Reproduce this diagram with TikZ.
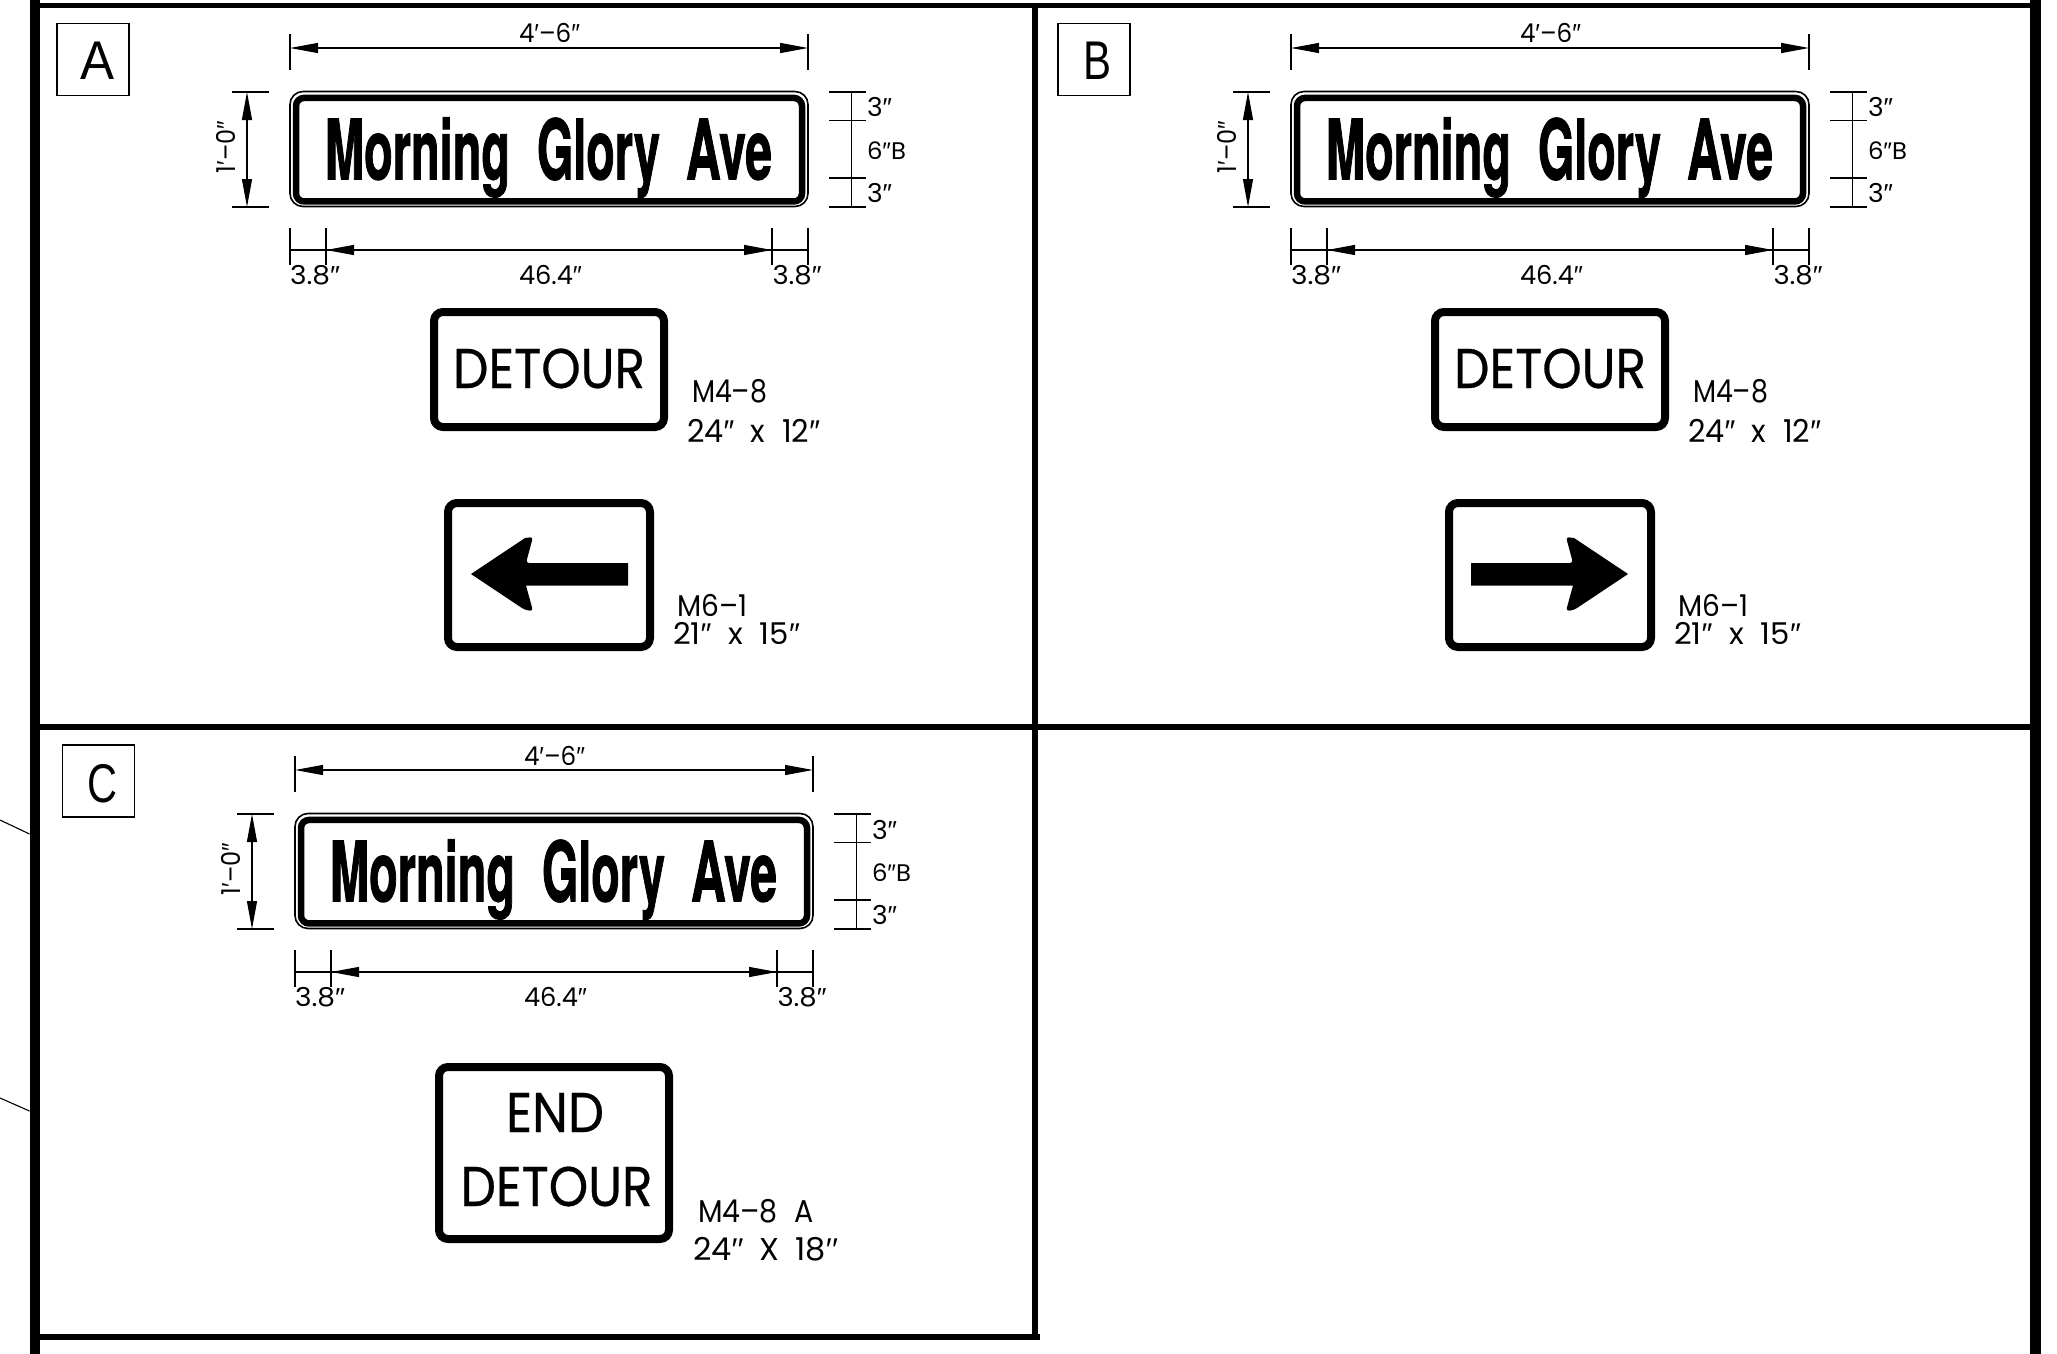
\documentclass[tikz,border=0pt]{standalone}
\usepackage{fontspec}
\usepackage{graphicx}
\usetikzlibrary{arrows.meta}
\setmainfont{Poppins}
\newfontfamily\heros[BoldFeatures={FakeBold=1.6}]{TeX Gyre Heros}
\newfontfamily\libs{Liberation Sans}
\newfontfamily\plaque[FakeBold=0.5]{Poppins}
\newcommand\dq{{\libs ″}}
\newcommand\sq{{\libs ′}}
\newcommand\fitw[3]{\resizebox{#1pt}{\height}{\fontsize{#2pt}{#2pt}\selectfont #3}}
\tikzset{
  lab/.style={inner sep=0pt,outer sep=0pt,anchor=base west},
  frameline/.style={line width=#1,line cap=butt},
  dimline/.style={line width=1.2pt},
  dimarrow/.style={line width=1.2pt,{Triangle[length=28pt,width=10pt]}-{Triangle[length=28pt,width=10pt]}},
  panelbox/.style={draw,line width=1.6pt,inner sep=0pt,minimum width=72pt,minimum height=72pt},
  signbox/.style={draw,line width=8pt,rounded corners=9pt,inner sep=0pt,fill=white},
  thinbox/.style={draw,line width=1.6pt,rounded corners=13pt,inner sep=0pt},
  thickbox/.style={draw,line width=6.5pt,rounded corners=8pt,inner sep=0pt},
}
% Street name sign with its dimensions: dx, dy, prefix
\newcommand\streetsign[3]{%
\begin{scope}[shift={(#1,#2)},name prefix=#3-]
  \node[thinbox,minimum width=518pt,minimum height=115pt] (outer) at (549,149) {};
  \node[thickbox,minimum width=506pt,minimum height=103.5pt] (inner) at (549,149.7) {};
  \node[lab] (name) at (325,179.3) {\heros\bfseries
    \fitw{185}{83}{Morning}\hspace{27pt}\fitw{123}{83}{Glory}\hspace{26pt}\fitw{86}{83}{Ave}};
  % overall width
  \coordinate (wa) at (290,34); \coordinate (wb) at (290,70);
  \coordinate (wc) at (808,34); \coordinate (wd) at (808,70);
  \coordinate (we) at (290,48); \coordinate (wf) at (808,48);
  \draw[dimline] (wa) -- (wb); \draw[dimline] (wc) -- (wd);
  \draw[dimarrow] (we) -- (wf);
  \node[lab] (wt) at (519,43) {\fitw{61}{26}{4\sq–6\dq}};
  % overall height
  \coordinate (ha) at (232,92); \coordinate (hb) at (268.5,92);
  \coordinate (hc) at (232,207); \coordinate (hd) at (268.5,207);
  \coordinate (he) at (247,92); \coordinate (hf) at (247,207);
  \draw[dimline] (ha) -- (hb); \draw[dimline] (hc) -- (hd);
  \draw[dimarrow] (he) -- (hf);
  \node[lab,rotate=90] (ht) at (235,173) {\fitw{52}{26}{1\sq–0\dq}};
  % right ticks
  \coordinate (ra) at (829,92);    \coordinate (rb) at (865.5,92);
  \coordinate (rc) at (829,120.7); \coordinate (rd) at (865.5,120.7);
  \coordinate (re) at (829,178);   \coordinate (rf) at (865.5,178);
  \coordinate (rg) at (829,207);   \coordinate (rh) at (865.5,207);
  \coordinate (ri) at (851.5,92);  \coordinate (rj) at (851.5,207);
  \draw[dimline] (ra) -- (rb); \draw[dimline] (rc) -- (rd);
  \draw[dimline] (re) -- (rf); \draw[dimline] (rg) -- (rh);
  \draw[dimline] (ri) -- (rj);
  \node[lab] (r1) at (867,117) {\fitw{25}{26}{3\dq}};
  \node[lab] (r2) at (867,159.5) {\fitw{39}{24}{6\dq B}};
  \node[lab] (r3) at (867,202) {\fitw{25}{26}{3\dq}};
  % bottom dimension
  \coordinate (ba) at (290,228); \coordinate (bb) at (290,265);
  \coordinate (bc) at (326,228); \coordinate (bd) at (326,265);
  \coordinate (be) at (772,228); \coordinate (bf) at (772,265);
  \coordinate (bg) at (808,228); \coordinate (bh) at (808,265);
  \coordinate (bi) at (290,250); \coordinate (bj) at (808,250);
  \coordinate (bk) at (326,250); \coordinate (bl) at (772,250);
  \draw[dimline] (ba) -- (bb); \draw[dimline] (bc) -- (bd);
  \draw[dimline] (be) -- (bf); \draw[dimline] (bg) -- (bh);
  \draw[dimline] (bi) -- (bj);
  \draw[dimarrow] (bk) -- (bl);
  \node[lab] (b1) at (290,284) {\fitw{50}{26}{3.8\dq}};
  \node[lab] (b2) at (519,284) {\fitw{63}{26}{46.4\dq}};
  \node[lab] (b3) at (772.5,284) {\fitw{49}{26}{3.8\dq}};
\end{scope}}
% Detour + arrow plaques: dx, prefix
\newcommand\detoursign[2]{%
\begin{scope}[shift={(#1,0)},name prefix=#2-]
  \node[signbox,minimum width=230pt,minimum height=115pt] (det) at (549,369.5) {};
  \node[lab] (dett) at (453,388) {\plaque\fitw{192}{56}{DETOUR}};
  \node[signbox,minimum width=202pt,minimum height=144pt] (arr) at (549,575) {};
  \node[lab] (m48) at (692,402) {\fitw{75}{31.5}{M4–8}};
  \node[lab] (s48) at (687,442) {\fitw{133}{31.5}{24\dq\hspace{0.55em}x\hspace{0.55em}12\dq}};
  \node[lab] (m61) at (677,616) {\fitw{70}{30}{M6–1}};
  \node[lab] (s61) at (673,644) {\fitw{127}{30}{21\dq\hspace{0.55em}x\hspace{0.55em}15\dq}};
\end{scope}}
\begin{document}
\begin{tikzpicture}[x=1pt,y=-1pt]
\useasboundingbox (0,0) rectangle (2057,1354);
\fill[white] (0,0) rectangle (2057,1354);
% frame
\coordinate (lt) at (34.5,0);   \coordinate (lb) at (34.5,1354);
\coordinate (rt) at (2035.5,0); \coordinate (rb) at (2035.5,1354);
\coordinate (mt) at (1035,3);   \coordinate (mb) at (1035,1337);
\coordinate (tl) at (34.5,5.5); \coordinate (tr) at (2035.5,5.5);
\coordinate (cl) at (34.5,727); \coordinate (cr) at (2035.5,727);
\coordinate (fl) at (34.5,1337);\coordinate (fr) at (1040,1337);
\draw[frameline=10pt] (lt) -- (lb);
\draw[frameline=10.5pt] (rt) -- (rb);
\draw[frameline=6pt] (mt) -- (mb);
\draw[frameline=5.5pt] (tl) -- (tr);
\draw[frameline=6pt] (cl) -- (cr);
\draw[frameline=6pt] (fl) -- (fr);
% stubs left of the frame
\coordinate (s1a) at (0,820);  \coordinate (s1b) at (29.5,834);
\coordinate (s2a) at (0,1098); \coordinate (s2b) at (29.5,1111);
\draw[line width=1.1pt] (s1a) -- (s1b);
\draw[line width=1.1pt] (s2a) -- (s2b);
% panel labels
\node[panelbox] (pa) at (93,59.5) {};
\node[lab] (pat) at (80,79) {\libs\fitw{34}{54.5}{A}};
\node[panelbox] (pb) at (1094,59.5) {};
\node[lab] (pbt) at (1083,79) {\libs\fitw{28}{54.5}{B}};
\node[panelbox] (pc) at (98.5,781) {};
\node[lab] (pct) at (87,802) {\libs\fitw{30}{54.5}{C}};
% signs
\streetsign{0}{0}{a}
\streetsign{1001}{0}{b}
\streetsign{5}{722}{c}
\detoursign{0}{a}
\detoursign{1001}{b}
% left arrow
\fill[rounded corners=0pt] (471,574)
  -- (525,538) [rounded corners=3pt] -- (533,537) -- (526,563) [rounded corners=0pt] -- (628,563)
  -- (628,585.5) -- (526,585.5) [rounded corners=3pt] -- (533,611) -- (525,610) [rounded corners=0pt] -- cycle;
% right arrow
\begin{scope}[shift={(1550,0)},xscale=-1,shift={(-549,0)}]
\fill[rounded corners=0pt] (471,574)
  -- (525,538) [rounded corners=3pt] -- (533,537) -- (526,563) [rounded corners=0pt] -- (628,563)
  -- (628,585.5) -- (526,585.5) [rounded corners=3pt] -- (533,611) -- (525,610) [rounded corners=0pt] -- cycle;
\end{scope}
% end detour
\node[signbox,minimum width=230pt,minimum height=172pt] (end) at (554,1153) {};
\node[lab] (endt) at (506,1132) {\plaque\fitw{98}{56}{END}};
\node[lab] (endd) at (460.5,1206) {\plaque\fitw{192}{56}{DETOUR}};
\node[lab] (m48a) at (698,1222) {\fitw{116}{31.5}{M4–8\hspace{0.6em}A}};
\node[lab] (s48a) at (693,1260) {\fitw{145}{31.5}{24\sq\sq\hspace{0.5em}X\hspace{0.5em}18\sq\sq}};
\end{tikzpicture}
\end{document}
